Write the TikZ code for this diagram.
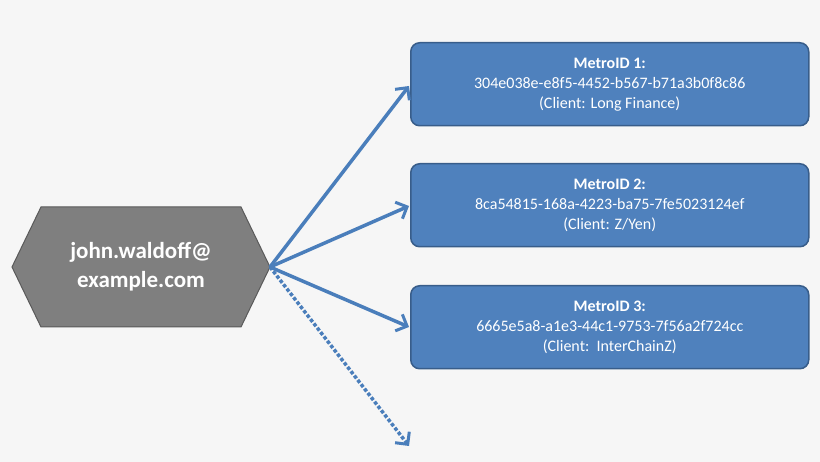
\documentclass[tikz,border=0pt]{standalone}
\usepackage{fontspec}
\setmainfont{Carlito}
\usetikzlibrary{arrows.meta}
\definecolor{bg}{HTML}{F6F6F6}
\definecolor{boxf}{HTML}{4F81BD}
\definecolor{boxd}{HTML}{385D8A}
\definecolor{hexf}{HTML}{7F7F7F}
\definecolor{hexd}{HTML}{5A5A5A}
\definecolor{arr}{HTML}{4A7EBB}
\begin{document}
\begin{tikzpicture}[x=1pt,y=-1pt,
  box/.style={draw=boxd,line width=1.5pt,fill=boxf,rounded corners=9pt,minimum width=398pt,minimum height=83pt,text=white,align=center,font=\fontsize{16}{20}\selectfont,anchor=north west,inner sep=0pt},
  link/.style={draw=arr,line width=3.5pt,-{Straight Barb[length=9pt,width=18pt,line width=3pt]}}]
\fill[bg] (0,0) rectangle (820,462);
\useasboundingbox (0,0) rectangle (820,462);
\filldraw[fill=hexf,draw=hexd,line width=1pt] (12,267) -- (41,207) -- (241,207) -- (270,267) -- (241,327) -- (41,327) -- cycle;
\node[text=white,font=\bfseries\fontsize{23}{29}\selectfont,align=center] (h) at (141,267) {john.waldoff@\\example.com};
\coordinate (src) at (270,267);
\node[box] (b1) at (410,42) {\textbf{MetroID 1:}\\304e038e-e8f5-4452-b567-b71a3b0f8c86\\(Client: Long Finance)};
\node[box] (b2) at (410,163) {\textbf{MetroID 2:}\\8ca54815-168a-4223-ba75-7fe5023124ef\\(Client: Z/Yen)};
\node[box] (b3) at (410,285) {\textbf{MetroID 3:}\\6665e5a8-a1e3-44c1-9753-7f56a2f724cc\\(Client:\ \ InterChainZ)};
\coordinate (e1) at (409,86);
\coordinate (e2) at (409,206);
\coordinate (e3) at (409,327);
\coordinate (e4) at (409,446);
\draw[link] (src) -- (e1);
\draw[link] (src) -- (e2);
\draw[link] (src) -- (e3);
\draw[link,dotted,line cap=butt] (src) -- (e4);
\end{tikzpicture}
\end{document}
